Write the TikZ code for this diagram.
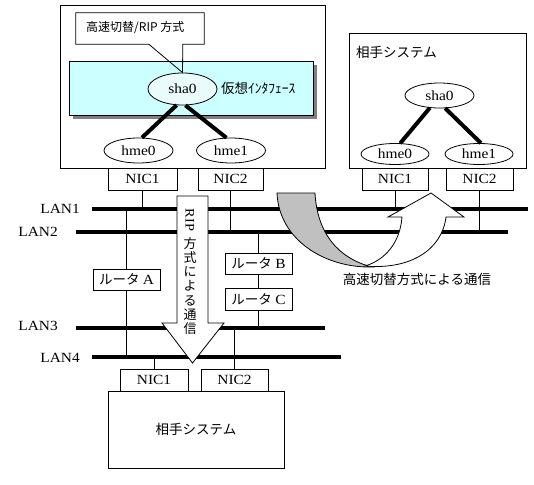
\documentclass[tikz,border=0pt]{standalone}
\usepackage{fontspec}
\newfontfamily\cjk{Noto Sans CJK JP}
\newfontfamily\lat{Liberation Serif}[FakeStretch=1.1]
\usetikzlibrary{calc,shapes.geometric}
\definecolor{cyanbox}{HTML}{CCFFFF}
\definecolor{shafill}{HTML}{EAFBFB}
\definecolor{shadowgray}{HTML}{808080}
\definecolor{arrowgray}{HTML}{C0C0C0}
\begin{document}
\begin{tikzpicture}[x=1pt,y=-1pt,
  box/.style={draw, line width=0.8pt, fill=white, inner sep=0pt, rectangle},
  nic/.style={box, minimum height=22pt, font=\lat\fontsize{14}{14}\selectfont},
  router/.style={box, minimum width=67pt, minimum height=21pt},
  ifc/.style={draw, line width=0.8pt, ellipse, inner sep=0pt, fill=white, font=\lat\fontsize{14}{14}\selectfont},
  lan/.style={line width=4pt},
  bond/.style={line width=4pt},
  jp/.style={font=\cjk\fontsize{13.5}{14}\selectfont},
  lanlbl/.style={font=\lat\fontsize{14}{14}\selectfont, anchor=east, inner sep=0pt},
  wire/.style={line width=0.8pt},
]
\useasboundingbox[fill=white] (0,0) rectangle (534,484);

% ---------- main (own) system ----------
\node[box, minimum width=265pt, minimum height=163pt] (mainbox) at (192.5,86.5) {};
\fill[shadowgray] (73,65) rectangle (317,119);
\draw[line width=0.8pt, fill=cyanbox] (69,61) rectangle (313,115);
\node[ifc, fill=shafill, minimum width=69pt, minimum height=32pt] (sha0) at (182.5,89) {sha0};
\node[jp, anchor=west, inner sep=0pt] (virt) at (221,88) {仮想ｲﾝﾀﾌｪｰｽ};

\node[inner sep=0pt, minimum width=128pt, minimum height=31pt] (callout) at (140,28.5) {};
\node[font=\cjk\fontsize{12}{12}\selectfont, anchor=west, inner sep=0pt] (calltxt) at (86,28) {高速切替/RIP 方式};
\draw[line width=0.8pt] ($(callout.south west)+(73,0)$) -- (callout.south west) -- (callout.north west)
  -- (callout.north east) -- (callout.south east) -- ($(callout.south west)+(107,0)$) -- (sha0.north)
  -- ($(callout.south west)+(73,0)$);

\node[ifc, minimum width=69pt, minimum height=25pt] (hme0a) at (138.5,150.5) {hme0};
\node[ifc, minimum width=69pt, minimum height=25pt] (hme1a) at (231,150.5) {hme1};
\draw[bond] (sha0.-110) -- (hme0a.75);
\draw[bond] (sha0.-80) -- (hme1a.110);

\node[nic, minimum width=69pt] (nic1a) at (142.5,179) {NIC1};
\node[nic, minimum width=65pt] (nic2a) at (230.5,179) {NIC2};

% ---------- partner system (right) ----------
\node[box, minimum width=177pt, minimum height=135pt] (rbox) at (437.5,100.5) {};
\node[jp, anchor=west, inner sep=0pt] (rlbl) at (356,52) {相手システム};
\node[ifc, minimum width=69pt, minimum height=25pt] (sha0r) at (439.5,95.5) {sha0};
\node[ifc, minimum width=68pt, minimum height=21pt] (hme0r) at (395,154) {hme0};
\node[ifc, minimum width=68pt, minimum height=21pt] (hme1r) at (479,154) {hme1};
\draw[bond] (sha0r.-128) -- (hme0r.64);
\draw[bond] (sha0r.-66) -- (hme1r.80);
\node[nic, minimum width=66pt] (nic1r) at (395,179) {NIC1};
\node[nic, minimum width=67pt] (nic2r) at (479.5,179) {NIC2};

% ---------- LANs ----------
\coordinate (lan1w) at (92,209);  \coordinate (lan1e) at (528,209);
\coordinate (lan2w) at (76,232);  \coordinate (lan2e) at (508,232);
\coordinate (lan3w) at (76,328);  \coordinate (lan3e) at (325,328);
\coordinate (lan4w) at (92,357);  \coordinate (lan4e) at (341,357);
\draw[lan] (lan1w) -- (lan1e);
\draw[lan] (lan2w) -- (lan2e);
\draw[lan] (lan3w) -- (lan3e);
\draw[lan] (lan4w) -- (lan4e);
\node[lanlbl] (l1) at (80,209) {LAN1};
\node[lanlbl] (l2) at (58,232) {LAN2};
\node[lanlbl] (l3) at (58,326) {LAN3};
\node[lanlbl] (l4) at (80,358) {LAN4};

% ---------- routers ----------
\node[router] (ra) at (126.5,279.5) {{\cjk\fontsize{13.5}{14}\selectfont ルータ} {\lat\fontsize{14}{14}\selectfont A}};
\node[router] (rb) at (258.5,263.5) {{\cjk\fontsize{13.5}{14}\selectfont ルータ} {\lat\fontsize{14}{14}\selectfont B}};
\node[router, minimum height=22pt] (rc) at (258.5,299) {{\cjk\fontsize{13.5}{14}\selectfont ルータ} {\lat\fontsize{14}{14}\selectfont C}};

% ---------- lower partner system ----------
\node[box, minimum width=176pt, minimum height=77pt, jp] (lbox) at (196,429.5) {相手システム};
\node[nic, minimum width=68pt] (nic1b) at (154,380) {NIC1};
\node[nic, minimum width=67pt] (nic2b) at (234.5,380) {NIC2};

% ---------- wires ----------
\draw[wire] (nic1a.south) -- (nic1a.south |- lan1w);
\draw[wire] (nic2a.south) -- (nic2a.south |- lan2w);
\draw[wire] (nic1r.south) -- (nic1r.south |- lan1w);
\draw[wire] (nic2r.south) -- (nic2r.south |- lan2w);
\draw[wire] (ra.north |- lan1w) -- (ra.north);
\draw[wire] (ra.south) -- (ra.south |- lan4w);
\draw[wire] (rb.north |- lan2w) -- (rb.north);
\draw[wire] (rb.south) -- (rc.north);
\draw[wire] (rc.south) -- (rc.south |- lan3w);
\draw[wire] (nic1b.north |- lan4w) -- (nic1b.north);
\draw[wire] (nic2b.north |- lan3w) -- (nic2b.north);

% ---------- RIP arrow ----------
\draw[line width=0.8pt, fill=white] (177,196) -- (208,196) -- (208,323) -- (224,323) -- (192.5,363)
  -- (162,323) -- (177,323) -- cycle;
\node[rotate=-90, font=\lat\fontsize{13}{13}\selectfont, inner sep=0pt] (riplbl) at (190,220) {RIP};
\node[align=center, inner sep=0pt, font=\cjk\fontsize{13}{14.2}\selectfont] (ripjp) at (190,286) {方\\式\\に\\よ\\る\\通\\信};

% ---------- fast switching curved arrow ----------
\draw[line width=0.8pt, fill=arrowgray] (277,193) -- (315,193) .. controls (317,232) and (337,258) .. (372,267)
  .. controls (325,268) and (279,240) .. (277,193) -- cycle;
\draw[line width=0.8pt, fill=white] (365,266) .. controls (410,270) and (442,250) .. (446,217) -- (464,217)
  -- (431,193) -- (388,217) -- (402,217) .. controls (400,243) and (385,260) .. (365,266) -- cycle;
\node[jp, inner sep=0pt] (fastlbl) at (417,279) {高速切替方式による通信};
\end{tikzpicture}
\end{document}
